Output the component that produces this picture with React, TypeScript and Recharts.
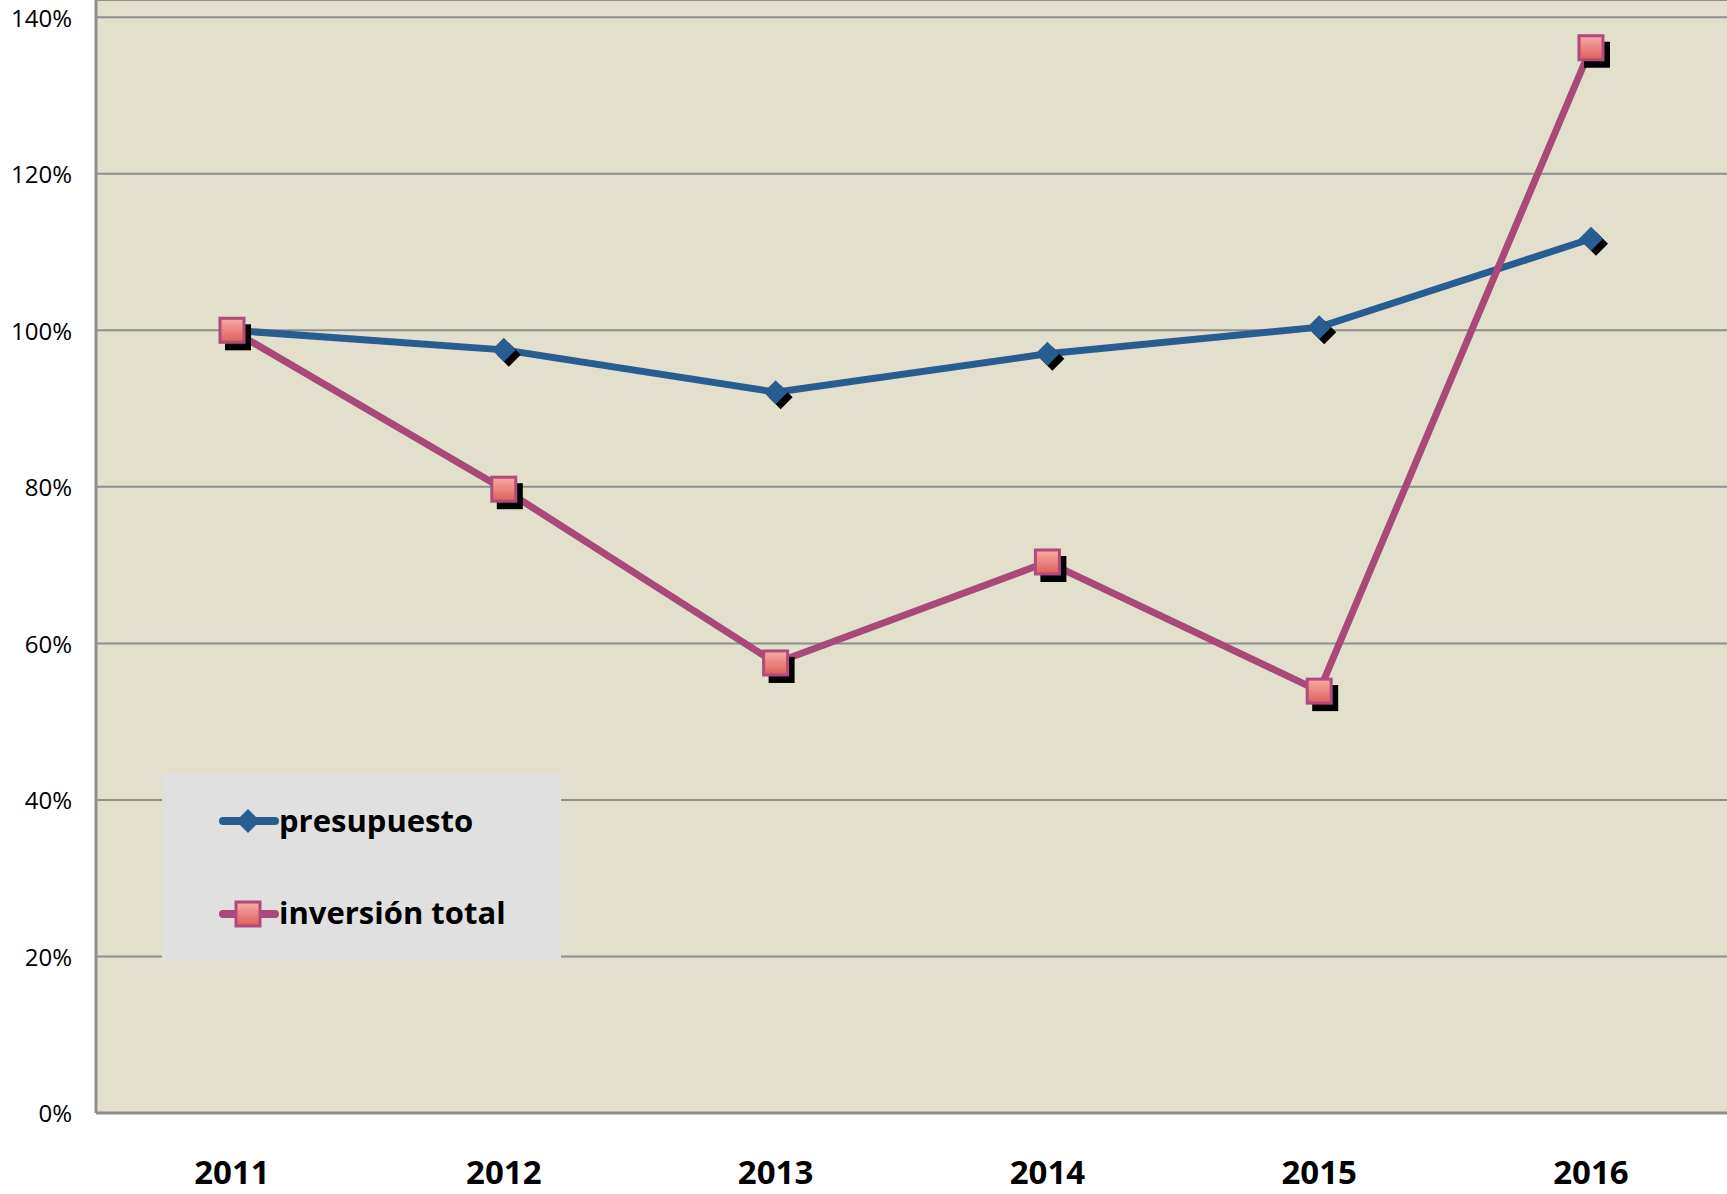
import { LineChart, Line, XAxis, YAxis, CartesianGrid } from "recharts";

const years = ["2011", "2012", "2013", "2014", "2015", "2016"];
const presupuesto = [100, 97.5, 92.1, 97.0, 100.4, 111.7];
const inversionTotal = [100, 79.7, 57.5, 70.4, 53.9, 136.1];
const yTicks = [0, 20, 40, 60, 80, 100, 120, 140];

const data = years.map((year, i) => ({
  year,
  presupuesto: presupuesto[i],
  inversion: inversionTotal[i],
}));

const BLUE = "#285D91";
const PINK = "#A9497A";
const FONT = "'Open Sans', sans-serif";

const Diamond = (props: any) => {
  const { cx, cy, index } = props;
  if (cx == null || cy == null) return null;
  const r = 12;
  const pts = (dx: number, dy: number) =>
    `${cx + dx},${cy + dy - r} ${cx + dx + r},${cy + dy} ${cx + dx},${cy + dy + r} ${cx + dx - r},${cy + dy}`;
  return (
    <g key={`d-${index}`}>
      <polygon points={pts(5, 5)} fill="#000" />
      <polygon points={pts(0, 0)} fill={BLUE} />
    </g>
  );
};

const Square = (props: any) => {
  const { cx, cy, index } = props;
  if (cx == null || cy == null) return null;
  const s = 24;
  const id = `sq-grad-${index}`;
  return (
    <g key={`s-${index}`}>
      <defs>
        <linearGradient id={id} x1="0" y1="0" x2="0" y2="1">
          <stop offset="0%" stopColor="#F8ABA6" />
          <stop offset="100%" stopColor="#DE5F58" />
        </linearGradient>
      </defs>
      <rect x={cx - s / 2 + 5} y={cy - s / 2 + 6} width={s + 2} height={s + 2} fill="#000" />
      <rect x={cx - s / 2} y={cy - s / 2} width={s} height={s} fill={`url(#${id})`} stroke="#B04A7E" strokeWidth={3} />
    </g>
  );
};

const YTick = (props: any) => {
  const { x, y, payload } = props;
  return (
    <text x={x} y={y + 3} textAnchor="end" dominantBaseline="middle" fontFamily={FONT} fontSize={24} fill="#000">
      {`${payload.value}%`}
    </text>
  );
};

const XTick = (props: any) => {
  const { x, payload } = props;
  return (
    <text x={x} y={1175} textAnchor="middle" dominantBaseline="middle" fontFamily={FONT} fontWeight="bold" fontSize={33} fill="#000">
      {payload.value}
    </text>
  );
};

const LegendBox = () => (
  <div style={{ position: "absolute", left: 162, top: 774, width: 399, height: 187, background: "#E0E0E0" }}>
    <svg width={399} height={187} style={{ position: "absolute", left: 0, top: 0 }}>
      <line x1={61} y1={47} x2={113} y2={47} stroke={BLUE} strokeWidth={8} strokeLinecap="round" />
      <polygon points="86,35 98,47 86,59 74,47" fill={BLUE} />
      <line x1={61} y1={140} x2={113} y2={140} stroke={PINK} strokeWidth={8} strokeLinecap="round" />
      <defs>
        <linearGradient id="leg-grad" x1="0" y1="0" x2="0" y2="1">
          <stop offset="0%" stopColor="#F8ABA6" />
          <stop offset="100%" stopColor="#DE5F58" />
        </linearGradient>
      </defs>
      <rect x={74} y={128} width={24} height={24} fill="url(#leg-grad)" stroke="#B04A7E" strokeWidth={3} />
      <text x={117} y={50} dominantBaseline="middle" fontFamily={FONT} fontWeight="bold" fontSize={31}>
        presupuesto
      </text>
      <text x={117} y={142} dominantBaseline="middle" fontFamily={FONT} fontWeight="bold" fontSize={31}>
        inversión total
      </text>
    </svg>
  </div>
);

export default function App() {
  return (
    <div style={{ position: "fixed", left: 0, top: 0, width: 1727, height: 1194, background: "#fff" }}>
      <LineChart width={1727} height={1194} data={data} margin={{ top: 0, right: 0, bottom: 0, left: 0 }}>
        <CartesianGrid vertical={false} fill="#E2DFCC" stroke="#8E8E8E" strokeWidth={2} />
        <XAxis
          dataKey="year"
          height={81}
          padding={{ left: 136, right: 136 }}
          tick={<XTick />}
          tickLine={false}
          axisLine={{ stroke: "#8E8E8E", strokeWidth: 3 }}
        />
        <YAxis
          width={96}
          domain={[0, 142.2]}
          ticks={yTicks}
          allowDataOverflow
          tick={<YTick />}
          tickLine={false}
          tickSize={0}
          tickMargin={24}
          axisLine={{ stroke: "#8E8E8E", strokeWidth: 3 }}
        />
        <Line
          dataKey="presupuesto"
          stroke={BLUE}
          strokeWidth={7}
          dot={<Diamond />}
          activeDot={false}
          isAnimationActive={false}
        />
        <Line
          dataKey="inversion"
          stroke={PINK}
          strokeWidth={7}
          dot={<Square />}
          activeDot={false}
          isAnimationActive={false}
        />
      </LineChart>
      <LegendBox />
    </div>
  );
}
